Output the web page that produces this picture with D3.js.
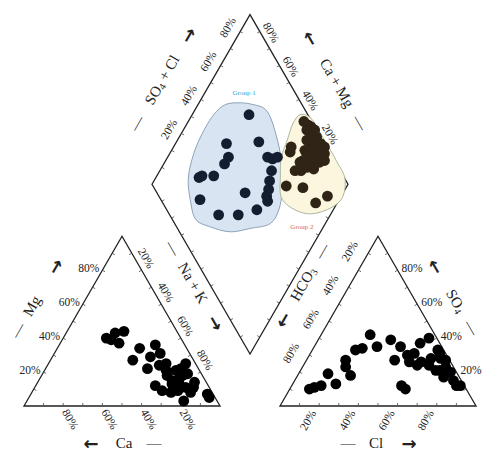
<!DOCTYPE html>
<html>
<head>
<meta charset="utf-8">
<script src="https://cdn.jsdelivr.net/npm/d3@7"></script>
<style>
  body { margin: 0; background: #fff; }
  svg { display: block; }
  text { font-family: "Liberation Serif", "Times New Roman", serif; fill: #222; }
  .arrow { font-family: "DejaVu Sans", sans-serif; font-weight: bold; }
</style>
</head>
<body>
<svg id="chart" width="482" height="455"></svg>
<script>
// ---- Data (% meq/L) ----
// Cation triangle samples
const cationCa = [38, 32, 27, 33, 36, 24, 31, 15, 21, 15, 26, 19, 15, 5, 12, 18, 27, 25, 18, 12, 7, 6, 12, 17, 21, 11, 17, 3, 3, 10, 17, 8, 17, 14, 9];
const cationMg = [40, 43, 44, 37, 39, 34, 27, 36, 29, 31, 22, 24, 25, 25, 21, 18, 12, 9, 13, 17, 19, 14, 11, 9, 8, 8, 3, 7, 5, 18, 15, 11, 21, 14, 22];

// Anion triangle samples
const anionCl  = [10, 12, 15, 15, 22, 20, 22, 27, 22, 25, 25, 32, 37, 44, 45, 56, 59, 53, 53, 56, 53, 59, 63, 64, 68, 73, 77, 81, 84, 86, 69, 64, 58, 50, 71, 71, 66, 75];
const anionSO4 = [10, 11, 12, 19, 13, 27, 23, 18, 33, 34, 42, 35, 39, 35, 27, 12, 10, 31, 37, 40, 26, 26, 28, 33, 28, 23, 20, 15, 12, 12, 21, 24, 24, 30, 21, 27, 31, 17];

// Diamond field: Na+K and SO4+Cl for each group
const group1NaK = [29, 26, 42, 31, 31, 22, 23, 29, 29, 50, 43, 53, 61, 51, 54, 56, 57, 59, 61, 62, 64];
const group1SCl = [70, 50, 67, 47, 43, 26, 28, 34, 20, 45, 25, 35, 46, 67, 69, 72, 65, 61, 58, 55, 54];
const group2NaK = [59, 62, 63, 66, 70, 74, 77, 79, 76, 71, 68, 60, 61, 70, 69, 74, 79, 69, 72, 69, 78, 89, 93, 73, 78, 68, 78,
                   64, 67, 72, 75, 73, 76, 70, 66, 74, 77, 81, 71];
const group2SCl = [96, 97, 95, 96, 98, 98, 99, 97, 94, 93, 93, 82, 80, 84, 82, 87, 92, 77, 80, 68, 76, 78, 86, 93, 95, 88, 87,
                   98, 99, 97, 95, 90, 91, 90, 92, 84, 89, 95, 87];

// Group envelopes in the diamond (Na+K, SO4+Cl)
const hull1NaK = [21, 28, 36, 51, 63, 72, 72, 63, 54, 42, 33, 24, 17, 13, 11, 11, 14];
const hull1SCl = [69, 75, 80, 77, 70, 58, 49, 37, 26, 17, 12, 15, 20, 28, 37, 52, 61];
const hull2NaK = [55, 60, 74, 87, 97, 101, 95, 86, 71, 63, 58, 56, 54];
const hull2SCl = [96, 100, 101, 101, 100, 92, 79, 69, 62, 68, 74, 82, 90];

const groupNames = ["Group 1", "Group 2"];
const groupLabelNaK = [20, 89];
const groupLabelSCl = [74, 64];

const tickValues = [20, 40, 60, 80];
const tickLabels = ["20%", "40%", "60%", "80%"];

// ---- Layout ----
const SIDE = 196, GAP = 60, BASE = 406, MID = 250;
const H = SIDE * Math.sqrt(3) / 2;
const LX = MID - GAP / 2 - SIDE;
const RX = MID + GAP / 2;

const lenX = d3.scaleLinear().domain([0, 100]).range([0, SIDE]);
const lenY = d3.scaleLinear().domain([0, 100]).range([0, H]);

// Ternary / diamond projections
const cationPos = (ca, mg) => {
  const nak = 100 - ca - mg;
  return [LX + lenX(nak) + lenX(mg) / 2, BASE - lenY(mg)];
};
const anionPos = (cl, so4) => [RX + lenX(cl) + lenX(so4) / 2, BASE - lenY(so4)];

const DB = [MID, BASE - GAP * Math.sqrt(3) / 2];
const DT = [MID, DB[1] - 2 * H];
const DL = [MID - SIDE / 2, DB[1] - H];
const DR = [MID + SIDE / 2, DB[1] - H];
const diamondPos = (nak, scl) => [DL[0] + lenX(nak) / 2 + lenX(scl) / 2, DL[1] + lenY(nak) - lenY(scl)];

// Triangle vertices
const LA = [LX, BASE], LB = [LX + SIDE, BASE], LC = [LX + SIDE / 2, BASE - H];
const RA = [RX, BASE], RB = [RX + SIDE, BASE], RC = [RX + SIDE / 2, BASE - H];

const svg = d3.select("#chart");
const frame = svg.append("g");
const labels = svg.append("g");
const marks = svg.append("g");

const line = d3.line();
const lerp = (p0, p1, t) => [p0[0] + (p1[0] - p0[0]) * t / 100, p0[1] + (p1[1] - p0[1]) * t / 100];

// Outlines
[[LA, LB, LC], [RA, RB, RC], [DL, DT, DR, DB]].forEach(poly => {
  frame.append("path")
    .attr("d", line(poly) + "Z")
    .attr("fill", "none")
    .attr("stroke", "#222")
    .attr("stroke-width", 1.3)
    .attr("stroke-linejoin", "miter");
});

// Small inward ticks every 10 %
function edgeTicks(p0, p1, center) {
  const dx = p1[0] - p0[0], dy = p1[1] - p0[1];
  const len = Math.hypot(dx, dy);
  let nx = -dy / len, ny = dx / len;
  const m = lerp(p0, p1, 50);
  if ((center[0] - m[0]) * nx + (center[1] - m[1]) * ny < 0) { nx = -nx; ny = -ny; }
  d3.range(10, 100, 10).forEach(t => {
    const p = lerp(p0, p1, t);
    frame.append("line")
      .attr("x1", p[0]).attr("y1", p[1])
      .attr("x2", p[0] + nx * 3).attr("y2", p[1] + ny * 3)
      .attr("stroke", "#444").attr("stroke-width", 0.8);
  });
}
const cL = [(LA[0] + LB[0] + LC[0]) / 3, (LA[1] + LB[1] + LC[1]) / 3];
const cR = [(RA[0] + RB[0] + RC[0]) / 3, (RA[1] + RB[1] + RC[1]) / 3];
const cD = [MID, DL[1]];
[[LA, LB], [LB, LC], [LC, LA]].forEach(e => edgeTicks(e[0], e[1], cL));
[[RA, RB], [RB, RC], [RC, RA]].forEach(e => edgeTicks(e[0], e[1], cR));
[[DL, DT], [DT, DR], [DR, DB], [DB, DL]].forEach(e => edgeTicks(e[0], e[1], cD));

// Percentage labels along the axes
function axisLabels(p0, p1, rot, anchor, off) {
  tickValues.forEach((v, i) => {
    const p = lerp(p0, p1, v);
    const x = p[0] + off[0], y = p[1] + off[1];
    labels.append("text")
      .attr("transform", `translate(${x},${y}) rotate(${rot})`)
      .attr("text-anchor", anchor)
      .attr("dominant-baseline", "central")
      .style("font-size", "11.5px")
      .text(tickLabels[i]);
  });
}
axisLabels(LA, LC, 0, "end", [-3, -2]);       // Mg
axisLabels(LB, LA, 60, "start", [2, 4]);      // Ca
axisLabels(LC, LB, 60, "end", [10, -3]);      // Na + K
axisLabels(RB, RC, 0, "start", [4, -2]);      // SO4
axisLabels(RA, RB, -60, "end", [-6, 5]);      // Cl
axisLabels(RC, RA, -60, "start", [-14, -10]); // HCO3
axisLabels(DL, DT, -60, "start", [-8, -12]);  // SO4 + Cl
axisLabels(DR, DT, 60, "end", [7, -7]);       // Ca + Mg

// Axis titles: dash, name, arrow laid out along a rotated baseline
function axisTitle(x, y, rot, items) {
  const g = labels.append("g").attr("transform", `translate(${x},${y}) rotate(${rot})`);
  items.forEach(it => {
    const t = g.append("text")
      .attr("x", it.dx).attr("y", 0)
      .attr("text-anchor", "middle")
      .attr("dominant-baseline", "central")
      .style("font-size", it.arrow ? "18px" : "15px");
    if (it.arrow) t.attr("class", "arrow");
    let shifted = false;
    it.segs.forEach(s => {
      const sp = t.append("tspan").text(s[0]);
      if (s[1]) { sp.attr("dy", 3).style("font-size", "10px"); shifted = true; }
      else if (shifted) { sp.attr("dy", -3); shifted = false; }
    });
  });
}
const DASH = { segs: [["\u2014"]] };
const toEnd = { segs: [["\u2192"]], arrow: true };
const toStart = { segs: [["\u2190"]], arrow: true };
axisTitle(32, 306, -60, [
  { ...DASH, dx: -28 }, { dx: 0, segs: [["Mg"]] }, { ...toEnd, dx: 46 }]);
axisTitle(124, 443, 0, [
  { ...toStart, dx: -33 }, { dx: 0, segs: [["Ca"]] }, { ...DASH, dx: 30 }]);
axisTitle(376, 443, 0, [
  { ...DASH, dx: -28 }, { dx: 0, segs: [["Cl"]] }, { ...toEnd, dx: 33 }]);
axisTitle(456, 301, 60, [
  { ...toStart, dx: -40 }, { dx: 0, segs: [["SO"], ["4", true]] }, { ...DASH, dx: 31 }]);
axisTitle(303, 284, -60, [
  { ...toStart, dx: -41 }, { dx: 0, segs: [["HCO"], ["3", true]] }, { ...DASH, dx: 38 }]);
axisTitle(193, 283, 60, [
  { ...DASH, dx: -40 }, { dx: 0, segs: [["Na + K"]] }, { ...toEnd, dx: 46 }]);
axisTitle(162, 80, -60, [
  { ...DASH, dx: -50 }, { dx: 0, segs: [["SO"], ["4", true], [" + Cl"]] }, { ...toEnd, dx: 52 }]);
axisTitle(337, 83, 60, [
  { ...toStart, dx: -52 }, { dx: 0, segs: [["Ca + Mg"]] }, { ...DASH, dx: 46 }]);

// Group envelopes
const hullLine = d3.line().curve(d3.curveCatmullRomClosed.alpha(0.5));
marks.append("path")
  .attr("d", hullLine(hull1NaK.map((v, i) => diamondPos(v, hull1SCl[i]))))
  .attr("fill", "#d8e4f2").attr("stroke", "#8da3b8").attr("stroke-width", 1);
marks.append("path")
  .attr("d", hullLine(hull2NaK.map((v, i) => diamondPos(v, hull2SCl[i]))))
  .attr("fill", "#fbf6dd").attr("stroke", "#a9b89d").attr("stroke-width", 1);

const groupColors = ["#2aa4d8", "#e2673a"];
groupNames.forEach((name, i) => {
  const p = diamondPos(groupLabelNaK[i], groupLabelSCl[i]);
  marks.append("text")
    .attr("x", p[0]).attr("y", p[1])
    .attr("text-anchor", "middle")
    .attr("dominant-baseline", "central")
    .style("font-size", "7px")
    .style("fill", groupColors[i])
    .text(name);
});

// Sample points
const R = 5.4;
marks.append("g").selectAll("circle").data(cationCa).join("circle")
  .attr("cx", (d, i) => cationPos(d, cationMg[i])[0])
  .attr("cy", (d, i) => cationPos(d, cationMg[i])[1])
  .attr("r", R).attr("fill", "#000");
marks.append("g").selectAll("circle").data(anionCl).join("circle")
  .attr("cx", (d, i) => anionPos(d, anionSO4[i])[0])
  .attr("cy", (d, i) => anionPos(d, anionSO4[i])[1])
  .attr("r", R).attr("fill", "#000");
marks.append("g").selectAll("circle").data(group1NaK).join("circle")
  .attr("cx", (d, i) => diamondPos(d, group1SCl[i])[0])
  .attr("cy", (d, i) => diamondPos(d, group1SCl[i])[1])
  .attr("r", R).attr("fill", "#151d30");
marks.append("g").selectAll("circle").data(group2NaK).join("circle")
  .attr("cx", (d, i) => diamondPos(d, group2SCl[i])[0])
  .attr("cy", (d, i) => diamondPos(d, group2SCl[i])[1])
  .attr("r", R).attr("fill", "#2f2416");
</script>
</body>
</html>
